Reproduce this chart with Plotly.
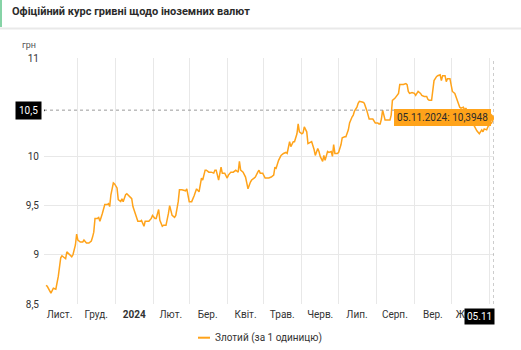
import plotly.graph_objects as go

# Official NBU hryvnia rate for the Polish zloty (UAH per 1 PLN)
dates = [
    "2023-11-05", "2023-11-06", "2023-11-09", "2023-11-11", "2023-11-13", "2023-11-14", "2023-11-15",
    "2023-11-17", "2023-11-18", "2023-11-20", "2023-11-21", "2023-11-22", "2023-11-24", "2023-11-26",
    "2023-11-27", "2023-11-29", "2023-11-30",
    "2023-12-01", "2023-12-03", "2023-12-05", "2023-12-06", "2023-12-08", "2023-12-10", "2023-12-12",
    "2023-12-13", "2023-12-14", "2023-12-15", "2023-12-17", "2023-12-18", "2023-12-19", "2023-12-21",
    "2023-12-22", "2023-12-23", "2023-12-25", "2023-12-26", "2023-12-27", "2023-12-28", "2023-12-30",
    "2023-12-31",
    "2024-01-02", "2024-01-03", "2024-01-05", "2024-01-06", "2024-01-07", "2024-01-09", "2024-01-10",
    "2024-01-11", "2024-01-14", "2024-01-15", "2024-01-17", "2024-01-19", "2024-01-21", "2024-01-22",
    "2024-01-24", "2024-01-25", "2024-01-28", "2024-01-30", "2024-01-31",
    "2024-02-02", "2024-02-03", "2024-02-05", "2024-02-06", "2024-02-08", "2024-02-09", "2024-02-11",
    "2024-02-13", "2024-02-14", "2024-02-16", "2024-02-18", "2024-02-19", "2024-02-21", "2024-02-22",
    "2024-02-24", "2024-02-27", "2024-02-28",
    "2024-03-01", "2024-03-03", "2024-03-05", "2024-03-06", "2024-03-07", "2024-03-09", "2024-03-10",
    "2024-03-11", "2024-03-12", "2024-03-14", "2024-03-15", "2024-03-17", "2024-03-19", "2024-03-21",
    "2024-03-22", "2024-03-23", "2024-03-25", "2024-03-26", "2024-03-27", "2024-03-28", "2024-03-30",
    "2024-04-01", "2024-04-02", "2024-04-04", "2024-04-06", "2024-04-08", "2024-04-10", "2024-04-11",
    "2024-04-12", "2024-04-14", "2024-04-16", "2024-04-17", "2024-04-18", "2024-04-20", "2024-04-21",
    "2024-04-23", "2024-04-24", "2024-04-26", "2024-04-27", "2024-04-28", "2024-04-30",
    "2024-05-02", "2024-05-03", "2024-05-05", "2024-05-07", "2024-05-09", "2024-05-10", "2024-05-11",
    "2024-05-13", "2024-05-14", "2024-05-15", "2024-05-17", "2024-05-19", "2024-05-20", "2024-05-22",
    "2024-05-23", "2024-05-25", "2024-05-26", "2024-05-28", "2024-05-29", "2024-05-30",
    "2024-06-01", "2024-06-02", "2024-06-03", "2024-06-05", "2024-06-06", "2024-06-08", "2024-06-09",
    "2024-06-11", "2024-06-12", "2024-06-14", "2024-06-15", "2024-06-16", "2024-06-18", "2024-06-19",
    "2024-06-20", "2024-06-22", "2024-06-23", "2024-06-25", "2024-06-26", "2024-06-27", "2024-06-28",
    "2024-06-30",
    "2024-07-01", "2024-07-03", "2024-07-04", "2024-07-06", "2024-07-07", "2024-07-09", "2024-07-10",
    "2024-07-12", "2024-07-13", "2024-07-14", "2024-07-16", "2024-07-17", "2024-07-18", "2024-07-21",
    "2024-07-22", "2024-07-24", "2024-07-25", "2024-07-26", "2024-07-29", "2024-07-31",
    "2024-08-02", "2024-08-03", "2024-08-04", "2024-08-05", "2024-08-06", "2024-08-08", "2024-08-09",
    "2024-08-12", "2024-08-13", "2024-08-14", "2024-08-16", "2024-08-17", "2024-08-19", "2024-08-20",
    "2024-08-21", "2024-08-23", "2024-08-25", "2024-08-26", "2024-08-27", "2024-08-28", "2024-08-30",
    "2024-09-01", "2024-09-02", "2024-09-03", "2024-09-04", "2024-09-06", "2024-09-07", "2024-09-09",
    "2024-09-11", "2024-09-12", "2024-09-13", "2024-09-15", "2024-09-16", "2024-09-17", "2024-09-19",
    "2024-09-20", "2024-09-22", "2024-09-23", "2024-09-24", "2024-09-26", "2024-09-27", "2024-09-28",
    "2024-09-30",
    "2024-10-01", "2024-10-02", "2024-10-04", "2024-10-05", "2024-10-06", "2024-10-08", "2024-10-09",
    "2024-10-11", "2024-10-12", "2024-10-13", "2024-10-16", "2024-10-19", "2024-10-22", "2024-10-24",
    "2024-10-26", "2024-10-27", "2024-10-28", "2024-10-30", "2024-10-31",
    "2024-11-01", "2024-11-03", "2024-11-04", "2024-11-05",
]

rates = [
    8.69, 8.68, 8.61, 8.66, 8.65, 8.71, 8.78,
    8.97, 8.99, 8.97, 8.96, 9.03, 9.00, 8.98,
    9.00, 9.10, 9.21,
    9.15, 9.13, 9.13, 9.15, 9.12, 9.12, 9.14,
    9.18, 9.23, 9.37, 9.37, 9.38, 9.34, 9.42,
    9.46, 9.51, 9.51, 9.52, 9.49, 9.61, 9.73,
    9.72,
    9.68, 9.56, 9.54, 9.57, 9.54, 9.61, 9.62,
    9.61, 9.57, 9.49, 9.42, 9.34, 9.34, 9.35,
    9.29, 9.34, 9.34, 9.37, 9.40,
    9.37, 9.37, 9.46, 9.35, 9.29, 9.30, 9.30,
    9.42, 9.50, 9.40, 9.38, 9.40, 9.54, 9.66,
    9.66, 9.65, 9.67,
    9.54, 9.54, 9.60, 9.63, 9.67, 9.64, 9.71,
    9.78, 9.76, 9.86, 9.86, 9.84, 9.84, 9.83,
    9.86, 9.86, 9.76, 9.84, 9.89, 9.83, 9.83,
    9.78, 9.81, 9.84, 9.84, 9.86, 9.84, 9.95,
    9.86, 9.84, 9.79, 9.73, 9.67, 9.74, 9.76,
    9.78, 9.79, 9.84, 9.86, 9.83, 9.83,
    9.78, 9.78, 9.78, 9.79, 9.81, 9.89, 9.88,
    9.96, 9.98, 10.01, 10.03, 10.04, 10.03, 10.15,
    10.10, 10.15, 10.15, 10.23, 10.33, 10.25,
    10.23, 10.24, 10.30, 10.25, 10.13, 10.14, 10.15,
    10.07, 10.01, 10.08, 10.05, 10.00, 9.95, 10.01,
    9.96, 10.05, 10.04, 10.05, 10.00, 10.12, 10.03,
    10.03,
    10.04, 10.12, 10.19, 10.20, 10.20, 10.27, 10.34,
    10.40, 10.42, 10.46, 10.50, 10.54, 10.56, 10.55,
    10.54, 10.47, 10.42, 10.38, 10.38, 10.34,
    10.34, 10.33, 10.33, 10.38, 10.47, 10.37, 10.37,
    10.37, 10.42, 10.57, 10.59, 10.61, 10.64, 10.73,
    10.73, 10.73, 10.74, 10.73, 10.66, 10.64, 10.65,
    10.64, 10.62, 10.64, 10.66, 10.64, 10.62, 10.61,
    10.61, 10.58, 10.57, 10.57, 10.71, 10.77, 10.81,
    10.82, 10.83, 10.77, 10.82, 10.82, 10.76, 10.79,
    10.79,
    10.73, 10.66, 10.64, 10.60, 10.57, 10.50, 10.49,
    10.50, 10.47, 10.49, 10.42, 10.33, 10.26, 10.23,
    10.27, 10.25, 10.28, 10.27, 10.30,
    10.32, 10.34, 10.38, 10.3948,
]

# Month labels sit in the middle of each month
month_mid = ["2023-11-16", "2023-12-16", "2024-01-16", "2024-02-15", "2024-03-16", "2024-04-16",
             "2024-05-16", "2024-06-16", "2024-07-16", "2024-08-16", "2024-09-16", "2024-10-16"]
month_names = ["Лист.", "Груд.", "<b>2024</b>", "Лют.", "Бер.", "Квіт.", "Трав.", "Черв.",
               "Лип.", "Серп.", "Вер.", "Жовт."]

y_ticks = [8.5, 9, 9.5, 10, 11]
y_labels = ["8,5", "9", "9,5", "10", "11"]

series_name = "Злотий (за 1 одиницю)"
title_text = "Офіційний курс гривні щодо іноземних валют"
cursor_value = 10.47
cursor_value_label = "10,5"
cursor_date_label = "05.11"

LINE = "#ffa31a"
GRID = "#e8e8e8"
FONT = "Roboto, Arial, sans-serif"
X_START = "2023-11-03 08:00"
X_END = "2024-11-05"

last_date, last_rate = dates[-1], rates[-1]
tip_text = "05.11.2024: " + f"{last_rate:.4f}".replace(".", ",")

fig = go.Figure()
fig.add_trace(go.Scatter(
    x=dates, y=rates, mode="lines", name=series_name,
    line=dict(color=LINE, width=1.5), showlegend=False, hoverinfo="skip",
))

shapes = [
    # header accent and divider
    dict(type="rect", xref="paper", yref="paper", x0=-0.0978, x1=-0.0933, y0=1.126, y1=1.236,
         fillcolor="#86d3a6", line=dict(width=0), layer="above"),
    dict(type="line", xref="paper", yref="paper", x0=-0.0978, x1=1.06, y0=1.12, y1=1.12,
         line=dict(color="#e9e9e9", width=2)),
    # cursor lines
    dict(type="line", xref="paper", yref="y", x0=0, x1=1, y0=cursor_value, y1=cursor_value,
         line=dict(color="#9a9a9a", width=1, dash="dot"), layer="above"),
    dict(type="line", xref="x", yref="paper", x0=last_date, x1=last_date, y0=0, y1=1,
         line=dict(color="#9a9a9a", width=1, dash="dot"), layer="above"),
    # pointer of the value tooltip
    dict(type="path", xref="x", yref="y", xsizemode="pixel", ysizemode="pixel",
         xanchor=last_date, yanchor=last_rate, path="M -4,-5 L 1,0 L -4,5 Z",
         fillcolor=LINE, line=dict(width=0), layer="above"),
    # pointer of the y-axis cursor label
    dict(type="path", xref="x", yref="y", xsizemode="pixel", ysizemode="pixel",
         xanchor=X_START, yanchor=cursor_value, path="M -3,-4 L 1,0 L -3,4 Z",
         fillcolor="#000000", line=dict(width=0), layer="above"),
    # legend swatch
    dict(type="line", xref="paper", yref="paper", x0=0.3422, x1=0.3689, y0=-0.137, y1=-0.137,
         line=dict(color=LINE, width=2)),
]

annotations = [
    dict(text=f"<b>{title_text}</b>", xref="paper", yref="paper", x=-0.0756, y=1.187,
         xanchor="left", yanchor="middle", showarrow=False,
         font=dict(family=FONT, size=11, color="#2b2b2b")),
    dict(text="грн", xref="paper", yref="paper", x=-0.0333, y=1.053, xanchor="center",
         yanchor="middle", showarrow=False, font=dict(family=FONT, size=9, color="#555555")),
    dict(text=series_name, xref="paper", yref="paper", x=0.3756, y=-0.137, xanchor="left",
         yanchor="middle", showarrow=False, font=dict(family=FONT, size=10, color="#333333")),
    dict(text=cursor_value_label, xref="paper", yref="y", x=0, y=cursor_value, xanchor="right",
         yanchor="middle", xshift=-2, showarrow=False, bgcolor="#000000", borderpad=3,
         font=dict(family=FONT, size=10, color="#ffffff")),
    dict(text=cursor_date_label, xref="x", yref="paper", x=last_date, y=-0.052, xanchor="right",
         yanchor="middle", xshift=1, showarrow=False, bgcolor="#000000", borderpad=2,
         font=dict(family=FONT, size=10, color="#ffffff")),
    dict(text=tip_text, xref="x", yref="y", x=last_date, y=last_rate, xanchor="right",
         yanchor="middle", xshift=-3, showarrow=False, bgcolor=LINE, bordercolor=LINE,
         borderpad=2, font=dict(family=FONT, size=10, color="#2b2b2b")),
]

fig.update_layout(
    width=521, height=350,
    margin=dict(l=44, r=27, t=58, b=46, autoexpand=False),
    paper_bgcolor="#ffffff", plot_bgcolor="#ffffff",
    font=dict(family=FONT, size=10, color="#333333"),
    shapes=shapes, annotations=annotations,
    showlegend=False,
)
fig.update_xaxes(
    type="date", range=[X_START, X_END], fixedrange=True,
    tickmode="array", tickvals=month_mid, ticktext=month_names,
    showgrid=False, ticks="", zeroline=False, showline=False, ticklabelstandoff=3,
    tickfont=dict(family=FONT, size=10, color="#333333"),
    minor=dict(tickmode="linear", tick0="2023-12-01", dtick="M1", showgrid=True,
               gridcolor=GRID, gridwidth=1, ticks=""),
)
fig.update_yaxes(
    range=[8.5, 11], fixedrange=True,
    tickmode="array", tickvals=y_ticks, ticktext=y_labels,
    showgrid=True, gridcolor=GRID, gridwidth=1, zeroline=False, showline=False,
    ticks="", ticklabelstandoff=4,
    tickfont=dict(family=FONT, size=10, color="#333333"),
)

fig.write_html("out.html", config={"displayModeBar": False})
